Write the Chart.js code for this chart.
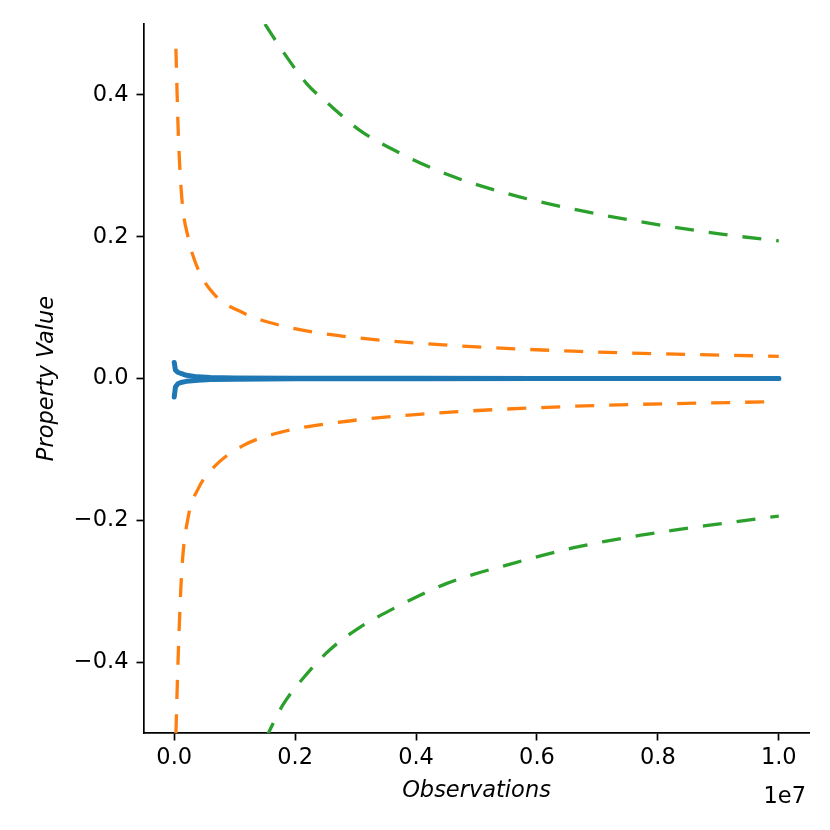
<!DOCTYPE html>
<html lang="en">

<head>
  <meta charset="UTF-8" />
  <title>Property Value vs Observations</title>
  <script>
    // dashes restart at every point when the line is stroked as a Path2D here,
    // so let Chart.js draw the lines straight onto the context
    window.Path2D = undefined;
  </script>
  <script src="https://cdn.jsdelivr.net/npm/chart.js"></script>
  <style>
    * {
      margin: 0;
      padding: 0;
      box-sizing: border-box;
    }

    body {
      background-color: #fff;
    }

    .chart-box {
      width: 830px;
      height: 830px;
    }
  </style>
</head>

<body>

  <div class="chart-box">
    <canvas id="propChart" width="830" height="830"></canvas>
  </div>

  <script>
    // values, x in observations
    const orangeObs = [28000, 68000, 125000, 230000, 400000, 680000, 1130000, 1750000,
      2630000, 4100000, 6600000, 10000000];
    const orangeUpper = [0.465, 0.344, 0.255, 0.199, 0.153, 0.117, 0.093, 0.075,
      0.0615, 0.0494, 0.0385, 0.0312];
    const orangeLower = [-0.50, -0.386, -0.271, -0.196, -0.155, -0.123, -0.095, -0.076,
      -0.0627, -0.0502, -0.0392, -0.0325];

    const greenObs = [1500000, 1800000, 2190000, 2570000, 3070000, 3570000, 4510000, 5590000,
      6590000, 7720000, 9020000, 10000000];
    const greenUpper = [0.50, 0.461, 0.416, 0.386, 0.350, 0.325, 0.288, 0.259,
      0.239, 0.221, 0.204, 0.194];
    const greenLower = [-0.51, -0.46, -0.417, -0.383, -0.351, -0.327, -0.289, -0.261,
      -0.239, -0.221, -0.205, -0.194];

    const blueObs = [0, 20000, 60000, 110000, 200000, 390000, 600000, 1000000, 2000000, 4000000,
      6000000, 8000000, 10000000];
    const blueUpper = [0.0226, 0.0117, 0.0088, 0.0071, 0.0045, 0.0023, 0.0014, 0.0008, 0.0004, 0.0002,
      0.0001, 0.0001, 0.0001];
    const blueLower = [-0.026, -0.012, -0.0075, -0.0057, -0.0040, -0.0024, -0.0015, -0.0009, -0.0004, -0.0002,
      -0.0001, -0.0001, -0.0001];

    const xTicks = [0, 2000000, 4000000, 6000000, 8000000, 10000000];
    const yTicks = [-0.4, -0.2, 0.0, 0.2, 0.4];

    const FONT = '"DejaVu Sans", sans-serif';
    const FONT_SIZE = 22.5;

    function pts(xs, ys) {
      return xs.map((x, i) => ({ x: x, y: ys[i] }));
    }

    function dashed(data, color) {
      return {
        data: data,
        borderColor: color,
        borderWidth: 3.3,
        borderDash: [19, 15],
        borderCapStyle: 'butt',
        pointRadius: 0,
        cubicInterpolationMode: 'monotone',
        fill: false
      };
    }

    function solid(data, color) {
      return {
        data: data,
        borderColor: color,
        borderWidth: 5,
        borderCapStyle: 'round',
        borderJoinStyle: 'round',
        pointRadius: 0,
        tension: 0,
        fill: false
      };
    }

    // axis titles and the 1e7 offset text, placed like matplotlib does
    const axisText = {
      id: 'axisText',
      afterDraw(chart) {
        const ctx = chart.ctx;
        const area = chart.chartArea;
        ctx.save();
        ctx.fillStyle = '#000';
        ctx.textBaseline = 'middle';
        ctx.font = 'italic ' + FONT_SIZE + 'px ' + FONT;
        ctx.textAlign = 'center';
        ctx.fillText('Observations', (area.left + area.right) / 2, area.bottom + 58);
        ctx.save();
        ctx.translate(area.left - 97, (area.top + area.bottom) / 2);
        ctx.rotate(-Math.PI / 2);
        ctx.fillText('Property Value', 0, 0);
        ctx.restore();
        ctx.font = FONT_SIZE + 'px ' + FONT;
        ctx.textAlign = 'right';
        ctx.fillText('1e7', area.right - 3, area.bottom + 64);
        ctx.restore();
      }
    };

    const ctx = document.getElementById('propChart').getContext('2d');

    const propChart = new Chart(ctx, {
      type: 'line',
      data: {
        datasets: [
          solid(pts(blueObs, blueUpper), '#1f77b4'),
          solid(pts(blueObs, blueLower), '#1f77b4'),
          dashed(pts(orangeObs, orangeUpper), '#ff7f0e'),
          dashed(pts(orangeObs, orangeLower), '#ff7f0e'),
          dashed(pts(greenObs, greenUpper), '#2ca02c'),
          dashed(pts(greenObs, greenLower), '#2ca02c')
        ]
      },
      options: {
        responsive: false,
        animation: false,
        devicePixelRatio: 1,
        layout: {
          padding: { left: 0, top: 24, right: 21, bottom: 0 }
        },
        plugins: {
          legend: { display: false },
          tooltip: { enabled: false }
        },
        scales: {
          x: {
            type: 'linear',
            min: -500000,
            max: 10500000,
            afterBuildTicks: s => { s.ticks = xTicks.map(v => ({ value: v })); },
            afterFit: s => { s.height = 97; },
            grid: {
              drawOnChartArea: false,
              drawTicks: true,
              tickLength: 7.5,
              tickWidth: 1.7,
              color: '#000'
            },
            border: { display: true, color: '#000', width: 1.7 },
            ticks: {
              color: '#000',
              padding: 4,
              maxRotation: 0,
              font: { family: FONT, size: FONT_SIZE },
              callback: v => (v / 1e7).toFixed(1)
            }
          },
          y: {
            type: 'linear',
            min: -0.5,
            max: 0.5,
            afterBuildTicks: s => { s.ticks = yTicks.map(v => ({ value: v })); },
            afterFit: s => { s.width = 144; },
            grid: {
              drawOnChartArea: false,
              drawTicks: true,
              tickLength: 7.5,
              tickWidth: 1.7,
              color: '#000'
            },
            border: { display: true, color: '#000', width: 1.7 },
            ticks: {
              color: '#000',
              padding: 8,
              font: { family: FONT, size: FONT_SIZE },
              callback: v => (v < 0 ? '\u2212' : '') + Math.abs(v).toFixed(1)
            }
          }
        }
      },
      plugins: [axisText]
    });
  </script>

</body>

</html>
